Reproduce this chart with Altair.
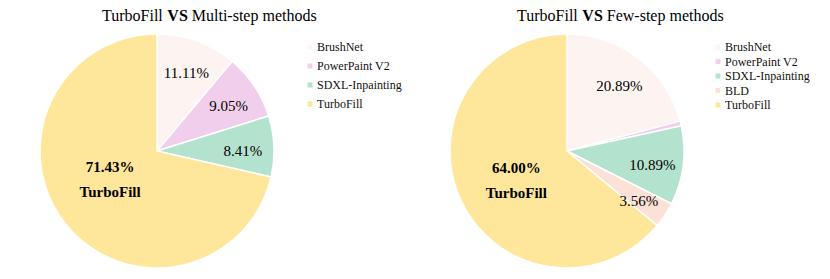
import altair as alt
import pandas as pd

left_methods = ["BrushNet", "PowerPaint V2", "SDXL-Inpainting", "TurboFill"]
left_values = [11.11, 9.05, 8.41, 71.43]
right_methods = ["BrushNet", "PowerPaint V2", "SDXL-Inpainting", "BLD", "TurboFill"]
right_values = [20.89, 0.66, 10.89, 3.56, 64.00]
palette = {
    "BrushNet": "#fdf4f1",
    "PowerPaint V2": "#f1cfec",
    "SDXL-Inpainting": "#b3e2cf",
    "BLD": "#fce1d6",
    "TurboFill": "#fee69a",
}
left_title = ["TurboFill", "VS", "Multi-step methods"]
right_title = ["TurboFill", "VS", "Few-step methods"]

FONT = "Liberation Serif, Times New Roman, Times, serif"
R = 117


def panel(methods, values, title_parts, title_x, legend_x, legend_y, row_pad, big_r, big_dy):
    df = pd.DataFrame({"method": methods, "value": values, "order": list(range(len(methods)))})
    df["label"] = [
        "" if (m == "TurboFill" or v < 1) else f"{v:.2f}%" for m, v in zip(methods, values)
    ]
    df["big"] = [f"{v:.2f}%\n{m}" if m == "TurboFill" else "" for m, v in zip(methods, values)]

    base = alt.Chart(df).encode(
        theta=alt.Theta("value:Q", stack=True),
        order=alt.Order("order:Q"),
    )
    color = alt.Color(
        "method:N",
        scale=alt.Scale(domain=methods, range=[palette[m] for m in methods]),
        legend=alt.Legend(
            title=None,
            orient="none",
            legendX=legend_x,
            legendY=legend_y,
            symbolType="square",
            symbolSize=25,
            symbolStrokeWidth=0,
            symbolOpacity=1,
            labelFont=FONT,
            labelFontSize=12,
            labelColor="#111",
            labelOffset=1,
            rowPadding=row_pad,
        ),
    )
    arcs = base.mark_arc(outerRadius=R, stroke="white", strokeWidth=1.5).encode(color=color)
    labels = base.mark_text(radius=86, font=FONT, fontSize=15, color="black", dy=3).encode(
        text="label:N"
    )
    big = base.mark_text(
        radius=big_r, font=FONT, fontSize=15, fontWeight="bold", color="black",
        lineBreak="\n", lineHeight=25, dy=big_dy,
    ).encode(text="big:N")

    layers = [arcs, labels, big]
    widths = [16 * 3.834, 16 * 1.278, 0]
    x = title_x
    for i, part in enumerate(title_parts):
        t = alt.Chart(pd.DataFrame({"t": [part]})).mark_text(
            align="left", baseline="middle", font=FONT, fontSize=16,
            fontWeight="bold" if part == "VS" else "normal", color="black",
        ).encode(x=alt.value(x), y=alt.value(-18), text="t:N")
        layers.append(t)
        x += widths[i] + 4
    return alt.layer(*layers).properties(width=2 * R, height=2 * R)


left = panel(left_methods, left_values, left_title, 62, 264, 7, 7, 60, -21)
right = panel(right_methods, right_values, right_title, 67, 262, 7, 2.5, 56, -7)

chart = (
    alt.hconcat(left, right, spacing=45)
    .resolve_scale(color="independent", theta="independent")
    .properties(padding={"left": 29, "top": 0, "right": 0, "bottom": 0})
    .configure_view(stroke=None)
)

chart.save("out.html", embed_options={"renderer": "svg", "actions": False})
